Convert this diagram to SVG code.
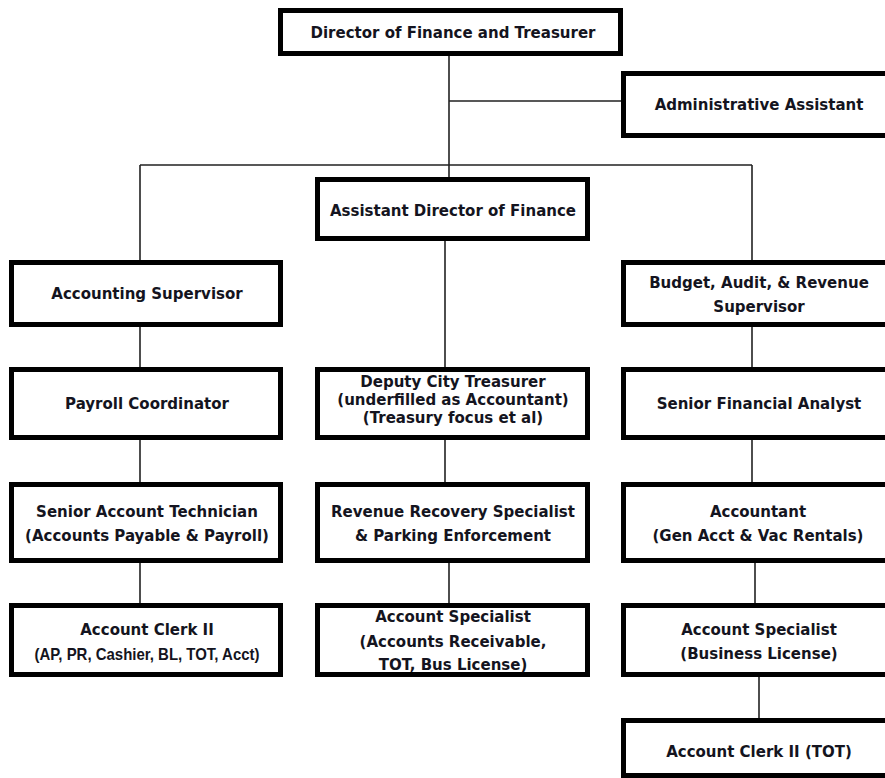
<svg xmlns="http://www.w3.org/2000/svg" width="885" height="778" viewBox="0 0 885 778">
  <style>
    .box { fill: #ffffff; stroke: #000000; stroke-width: 5; }
    .wire { fill: none; stroke: #222222; stroke-width: 1.6; }
    text { font-family: "DejaVu Sans", Verdana, sans-serif; font-weight: bold; font-size: 15px; fill: #141420; text-anchor: middle; }
    .narrow { font-family: "Liberation Sans", Arial, sans-serif; font-size: 17px; }
  </style>
  <rect width="885" height="778" fill="#ffffff"/>

  <!-- reporting lines -->
  <g id="connectors">
    <path class="wire" d="M449 56 V177 M449 101 H621 M140 165 H752 M140 165 V260 M752 165 V260"/>
    <path class="wire" d="M140 327 V367 M140 440 V482 M140 563 V603"/>
    <path class="wire" d="M445 241 V367 M445 440 V482 M449 563 V603"/>
    <path class="wire" d="M752 327 V367 M752 440 V482 M755 563 V603 M759 677 V718"/>
  </g>

  <g id="director">
    <rect class="box" x="280.5" y="10.5" width="340" height="43"/>
    <text x="453" y="38">Director of Finance and Treasurer</text>
  </g>
  <g id="admin-assistant">
    <rect class="box" x="623.5" y="73.5" width="271" height="62"/>
    <text x="759" y="110">Administrative Assistant</text>
  </g>
  <g id="assistant-director">
    <rect class="box" x="317.5" y="179.5" width="270" height="59"/>
    <text x="453" y="216">Assistant Director of Finance</text>
  </g>
  <g id="accounting-supervisor">
    <rect class="box" x="11.5" y="262.5" width="269" height="62"/>
    <text x="147" y="299">Accounting Supervisor</text>
  </g>
  <g id="budget-supervisor">
    <rect class="box" x="623.5" y="262.5" width="271" height="62"/>
    <text x="759" y="288">Budget, Audit, &amp; Revenue</text>
    <text x="759" y="312">Supervisor</text>
  </g>
  <g id="payroll-coordinator">
    <rect class="box" x="11.5" y="369.5" width="269" height="68"/>
    <text x="147" y="409">Payroll Coordinator</text>
  </g>
  <g id="deputy-treasurer">
    <rect class="box" x="317.5" y="369.5" width="270" height="68"/>
    <text x="453" y="387">Deputy City Treasurer</text>
    <text x="453" y="405">(underfilled as Accountant)</text>
    <text x="453" y="423">(Treasury focus et al)</text>
  </g>
  <g id="senior-financial-analyst">
    <rect class="box" x="623.5" y="369.5" width="271" height="68"/>
    <text x="759" y="409">Senior Financial Analyst</text>
  </g>
  <g id="senior-account-technician">
    <rect class="box" x="11.5" y="484.5" width="269" height="76"/>
    <text x="147" y="517">Senior Account Technician</text>
    <text x="147" y="541">(Accounts Payable &amp; Payroll)</text>
  </g>
  <g id="revenue-recovery">
    <rect class="box" x="317.5" y="484.5" width="270" height="76"/>
    <text x="453" y="517">Revenue Recovery Specialist</text>
    <text x="453" y="541">&amp; Parking Enforcement</text>
  </g>
  <g id="accountant">
    <rect class="box" x="623.5" y="484.5" width="271" height="76"/>
    <text x="758" y="517">Accountant</text>
    <text x="758" y="541">(Gen Acct &amp; Vac Rentals)</text>
  </g>
  <g id="account-clerk-left">
    <rect class="box" x="11.5" y="605.5" width="269" height="69"/>
    <text x="147" y="635">Account Clerk II</text>
    <text class="narrow" x="147" y="660" textLength="225" lengthAdjust="spacingAndGlyphs">(AP, PR, Cashier, BL, TOT, Acct)</text>
  </g>
  <g id="account-specialist-ar">
    <rect class="box" x="317.5" y="605.5" width="270" height="69"/>
    <text x="453" y="622">Account Specialist</text>
    <text x="453" y="647">(Accounts Receivable,</text>
    <text x="453" y="670">TOT, Bus License)</text>
  </g>
  <g id="account-specialist-bl">
    <rect class="box" x="623.5" y="605.5" width="271" height="69"/>
    <text x="759" y="635">Account Specialist</text>
    <text x="759" y="659">(Business License)</text>
  </g>
  <g id="account-clerk-tot">
    <rect class="box" x="623.5" y="720.5" width="271" height="55"/>
    <text x="759" y="757">Account Clerk II (TOT)</text>
  </g>
</svg>
